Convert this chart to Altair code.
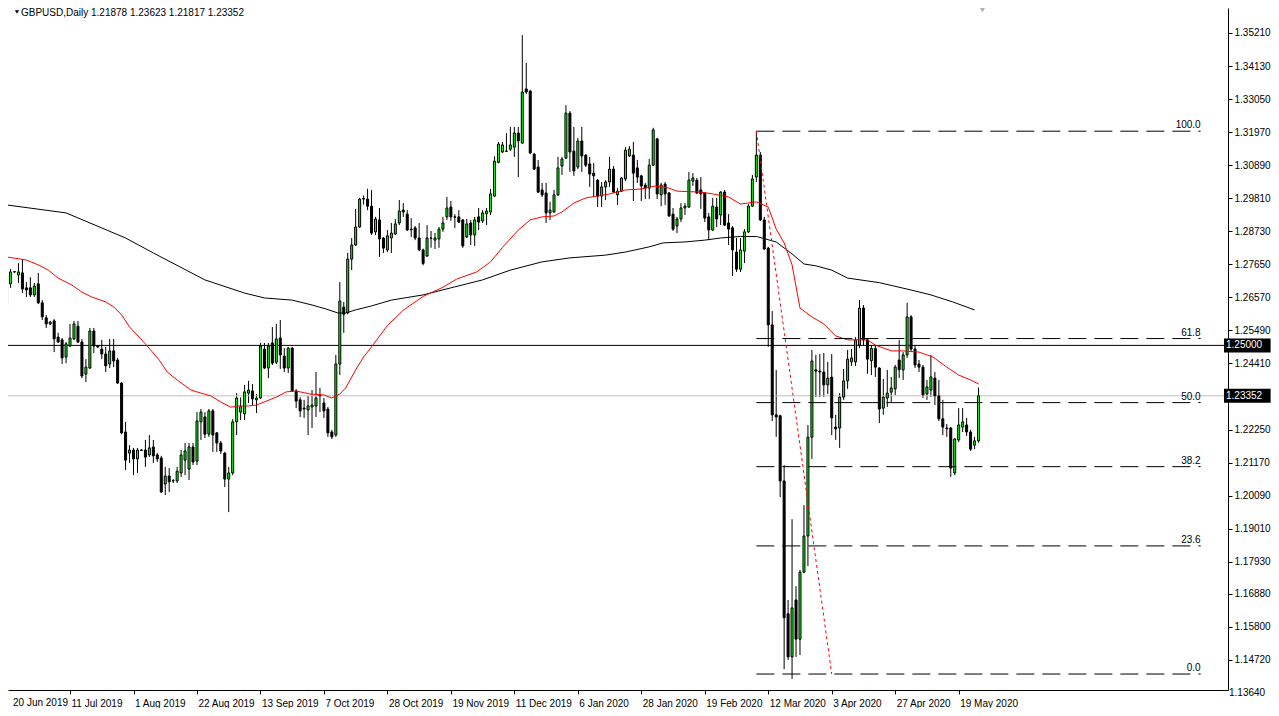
import altair as alt
import pandas as pd

# ---------------- data (GBPUSD daily) ----------------
opens = [1.2632,1.2701,1.2740,1.2730,1.2737,1.2688,1.2688,1.2665,1.2701,1.2639,
 1.2590,1.2570,1.2580,1.2527,1.2518,1.2462,1.2498,1.2521,1.2563,1.2511,
 1.2406,1.2426,1.2547,1.2498,1.2488,1.2472,1.2439,1.2482,1.2452,1.2377,
 1.2217,1.2148,1.2158,1.2129,1.2158,1.2158,1.2142,1.2168,1.2142,1.2132,
 1.2047,1.2073,1.2057,1.2057,1.2083,1.2125,1.2096,1.2168,1.2122,1.2250,
 1.2266,1.2210,1.2286,1.2214,1.2181,1.2148,1.2063,1.2083,1.2250,1.2282,
 1.2276,1.2344,1.2351,1.2322,1.2328,1.2488,1.2426,1.2508,1.2445,1.2524,
 1.2465,1.2426,1.2491,1.2351,1.2322,1.2295,1.2289,1.2299,1.2302,1.2338,
 1.2312,1.2292,1.2217,1.2207,1.2439,1.2625,1.2606,1.2782,1.2828,1.2887,
 1.2978,1.2978,1.2955,1.2871,1.2910,1.2851,1.2812,1.2851,1.2864,1.2900,
 1.2942,1.2929,1.2880,1.2884,1.2851,1.2812,1.2792,1.2851,1.2844,1.2848,
 1.2880,1.2920,1.2952,1.2920,1.2920,1.2910,1.2854,1.2900,1.2861,1.2920,
 1.2907,1.2930,1.2936,1.2988,1.3098,1.3132,1.3135,1.3141,1.3148,1.3194,
 1.3161,1.3338,1.3331,1.3125,1.3083,1.3008,1.2998,1.2933,1.2936,1.2992,
 1.3086,1.3112,1.3259,1.3135,1.3083,1.3168,1.3122,1.3093,1.3063,1.3040,
 1.2988,1.3018,1.3034,1.3076,1.2992,1.3004,1.3044,1.3119,1.3122,1.3080,
 1.3054,1.3024,1.3014,1.3089,1.3175,1.2992,1.3027,1.2998,1.2929,1.2890,
 1.2913,1.2949,1.2952,1.3037,1.3040,1.3008,1.2998,1.2920,1.2877,1.2952,
 1.2926,1.3001,1.2900,1.2884,1.2805,1.2749,1.2808,1.2871,1.2955,1.3050,
 1.3122,1.2910,1.2818,1.2567,1.2273,1.2270,1.2057,1.1623,1.1482,1.1668,
 1.1540,1.1759,1.1877,1.2200,1.2420,1.2416,1.2413,1.2371,1.2396,1.2233,
 1.2230,1.2331,1.2384,1.2446,1.2446,1.2501,1.2622,1.2518,1.2450,1.2490,
 1.2426,1.2295,1.2328,1.2347,1.2358,1.2452,1.2420,1.2469,1.2593,1.2488,
 1.2439,1.2429,1.2341,1.2354,1.2393,1.2335,1.2260,1.2230,1.2230,1.2083,
 1.2191,1.2233,1.2240,1.2217,1.2174,1.21878]

highs = [1.2746,1.2750,1.2743,1.2769,1.2782,1.2707,1.2723,1.2704,1.2737,1.2648,
 1.2599,1.2580,1.2586,1.2541,1.2524,1.2511,1.2570,1.2580,1.2580,1.2521,
 1.2455,1.2557,1.2557,1.2501,1.2518,1.2495,1.2521,1.2521,1.2459,1.2380,
 1.2250,1.2174,1.2165,1.2165,1.2161,1.2191,1.2207,1.2191,1.2148,1.2139,
 1.2103,1.2099,1.2063,1.2103,1.2158,1.2181,1.2181,1.2181,1.2282,1.2292,
 1.2282,1.2292,1.2292,1.2217,1.2188,1.2152,1.2103,1.2259,1.2344,1.2330,
 1.2371,1.2384,1.2374,1.2341,1.2508,1.2508,1.2508,1.2560,1.2570,1.2583,
 1.2491,1.2495,1.2495,1.2357,1.2331,1.2322,1.2335,1.2354,1.2413,1.2361,
 1.2328,1.2299,1.2224,1.2469,1.2707,1.2642,1.2802,1.2851,1.2946,1.2982,
 1.2990,1.3012,1.3008,1.2920,1.2949,1.2854,1.2877,1.2900,1.2913,1.2975,
 1.2965,1.2942,1.2916,1.2890,1.2900,1.2816,1.2893,1.2874,1.2867,1.2887,
 1.2920,1.2985,1.2972,1.2929,1.2942,1.2913,1.2913,1.2910,1.2920,1.2949,
 1.2942,1.2949,1.3011,1.3118,1.3165,1.3165,1.3194,1.3214,1.3214,1.3214,
 1.3514,1.3423,1.3335,1.3129,1.3106,1.3031,1.3031,1.2969,1.3008,1.3116,
 1.3116,1.3285,1.3266,1.3214,1.3178,1.3214,1.3124,1.3116,1.3096,1.3044,
 1.3034,1.3040,1.3116,1.3086,1.3014,1.3050,1.3148,1.3151,1.3165,1.3106,
 1.3057,1.3031,1.3109,1.3211,1.3178,1.3031,1.3034,1.3001,1.2949,1.2920,
 1.2965,1.2965,1.3067,1.3063,1.3047,1.3050,1.3000,1.2933,1.2982,1.2982,
 1.3004,1.3008,1.2929,1.2890,1.2851,1.2851,1.2880,1.2962,1.3057,1.3200,
 1.3132,1.2920,1.2822,1.2612,1.2420,1.2273,1.2109,1.1668,1.1932,1.1713,
 1.1766,1.1978,1.2240,1.2485,1.2469,1.2472,1.2475,1.2446,1.2472,1.2273,
 1.2344,1.2423,1.2485,1.2488,1.2527,1.2648,1.2632,1.2524,1.2500,1.2500,
 1.2429,1.2390,1.2420,1.2397,1.2436,1.2518,1.2478,1.2639,1.2599,1.2501,
 1.2452,1.2436,1.2387,1.2469,1.2413,1.2387,1.2322,1.2243,1.2233,1.2197,
 1.2295,1.2295,1.2263,1.2224,1.2201,1.23623]

lows = [1.2622,1.2688,1.2737,1.2704,1.2671,1.2658,1.2658,1.2658,1.2635,1.2583,
 1.2557,1.2567,1.2478,1.2508,1.2439,1.2442,1.2495,1.2518,1.2508,1.2393,
 1.2380,1.2423,1.2475,1.2491,1.2455,1.2413,1.2426,1.2429,1.2374,1.2210,
 1.2093,1.2116,1.2076,1.2083,1.2155,1.2103,1.2135,1.2116,1.2119,1.2018,
 1.2011,1.2021,1.2050,1.2050,1.2070,1.2076,1.2060,1.2109,1.2109,1.2191,
 1.2197,1.2201,1.2152,1.2152,1.2145,1.2037,1.1955,1.2076,1.2207,1.2256,
 1.2256,1.2312,1.2302,1.2279,1.2325,1.2423,1.2393,1.2436,1.2439,1.2423,
 1.2413,1.2410,1.2348,1.2295,1.2266,1.2263,1.2207,1.2230,1.2266,1.2282,
 1.2263,1.2201,1.2194,1.2201,1.2403,1.2541,1.2602,1.2746,1.2825,1.2884,
 1.2960,1.2942,1.2861,1.2861,1.2789,1.2802,1.2805,1.2802,1.2861,1.2893,
 1.2920,1.2874,1.2854,1.2844,1.2808,1.2762,1.2789,1.2819,1.2815,1.2819,
 1.2871,1.2910,1.2907,1.2884,1.2900,1.2819,1.2851,1.2828,1.2825,1.2877,
 1.2900,1.2893,1.2926,1.2985,1.3095,1.3129,1.3132,1.3135,1.3116,1.3050,
 1.3160,1.3322,1.3125,1.3073,1.2998,1.2985,1.2900,1.2910,1.2933,1.2988,
 1.3057,1.3109,1.3067,1.3054,1.3076,1.3067,1.3083,1.3018,1.2985,1.2952,
 1.2952,1.2975,1.3018,1.2998,1.2959,1.3001,1.3037,1.3116,1.2972,1.3031,
 1.2972,1.2978,1.2978,1.3086,1.2978,1.2955,1.2959,1.2920,1.2874,1.2867,
 1.2903,1.2926,1.2950,1.3021,1.2995,1.2946,1.2903,1.2844,1.2874,1.2887,
 1.2893,1.2890,1.2828,1.2727,1.2740,1.2740,1.2769,1.2867,1.2952,1.3034,
 1.2907,1.2812,1.2495,1.2253,1.2201,1.2004,1.1442,1.1472,1.1410,1.1482,
 1.1488,1.1755,1.1779,1.2129,1.2331,1.2331,1.2331,1.2341,1.2207,1.2191,
 1.2165,1.2322,1.2358,1.2433,1.2433,1.2491,1.2501,1.2407,1.2403,1.2397,
 1.2246,1.2273,1.2299,1.2312,1.2338,1.2393,1.2387,1.2459,1.2478,1.2426,
 1.2413,1.2328,1.2322,1.2331,1.2305,1.2253,1.2207,1.2201,1.2070,1.2076,
 1.2184,1.2217,1.2204,1.2155,1.2161,1.21817]

closes = [1.2730,1.2740,1.2741,1.2740,1.2684,1.2681,1.2665,1.2694,1.2639,1.2593,
 1.2570,1.2576,1.2521,1.2511,1.2459,1.2505,1.2524,1.2570,1.2511,1.2400,
 1.2429,1.2547,1.2498,1.2495,1.2472,1.2433,1.2482,1.2449,1.2377,1.2214,
 1.2125,1.2158,1.2129,1.2158,1.2157,1.2135,1.2165,1.2139,1.2129,1.2021,
 1.2073,1.2054,1.2058,1.2089,1.2142,1.2155,1.2168,1.2119,1.2253,1.2282,
 1.2210,1.2286,1.2207,1.2181,1.2155,1.2063,1.2083,1.2250,1.2328,1.2300,
 1.2348,1.2354,1.2325,1.2328,1.2498,1.2426,1.2498,1.2442,1.2521,1.2469,
 1.2426,1.2491,1.2351,1.2318,1.2286,1.2292,1.2302,1.2305,1.2328,1.2335,
 1.2286,1.2214,1.2201,1.2439,1.2645,1.2602,1.2782,1.2828,1.2887,1.2978,
 1.2980,1.2955,1.2867,1.2913,1.2848,1.2818,1.2858,1.2867,1.2897,1.2939,
 1.2936,1.2877,1.2878,1.2851,1.2812,1.2768,1.2851,1.2850,1.2851,1.2880,
 1.2900,1.2949,1.2920,1.2919,1.2903,1.2825,1.2897,1.2861,1.2910,1.2903,
 1.2933,1.2939,1.2995,1.3102,1.3158,1.3155,1.3134,1.3155,1.3194,1.3168,
 1.3328,1.3328,1.3129,1.3076,1.3001,1.2992,1.2933,1.2942,1.2992,1.3080,
 1.3109,1.3259,1.3132,1.3070,1.3168,1.3119,1.3089,1.3060,1.3054,1.2988,
 1.3018,1.3034,1.3076,1.3001,1.3004,1.3047,1.3138,1.3141,1.3063,1.3050,
 1.3021,1.3014,1.3089,1.3204,1.2995,1.3024,1.2995,1.2923,1.2880,1.2913,
 1.2949,1.2955,1.3040,1.3047,1.2998,1.2995,1.2916,1.2877,1.2955,1.2913,
 1.3001,1.2893,1.2880,1.2812,1.2749,1.2812,1.2871,1.2955,1.3044,1.3122,
 1.2910,1.2815,1.2567,1.2273,1.2266,1.2057,1.1610,1.1482,1.1642,1.1540,
 1.1759,1.1877,1.2200,1.2449,1.2416,1.2413,1.2371,1.2393,1.2263,1.2227,
 1.2331,1.2384,1.2455,1.2459,1.2518,1.2622,1.2518,1.2455,1.2490,1.2429,
 1.2292,1.2331,1.2344,1.2361,1.2429,1.2420,1.2469,1.2593,1.2488,1.2436,
 1.2429,1.2338,1.2364,1.2397,1.2335,1.2260,1.2233,1.2228,1.2099,1.2194,
 1.2240,1.2250,1.2217,1.2161,1.2188,1.23352]

# moving averages (red = fast, black = slow), sampled along the curve
ma_fast_bars = [0,5,8,10.5,13,16.5,19,21.5,25,27,29,31,35,38.5,40.5,43,46.5,49,51.5,54,
 56.5,58.5,61,63,68,70.5,73,76.5,80,82,84,85.5,88,90,92,96,100,105,110,113.5,
 118.5,122,125,129,132,135,138,140,143,146,149,152,156,160,163.5,167,169,175,178,182,
 185,189,192,194,196,198,200,203,206,209,212,217,219,223,226,230,233.5,237,240,243,245]
ma_fast_vals = [1.2789,1.2779,1.2763,1.2746,1.2720,1.2697,1.2674,1.2658,1.2642,1.2626,
 1.2600,1.2560,1.2505,1.2452,1.2413,1.2387,1.2354,1.2344,1.2335,1.2315,
 1.2298,1.2302,1.2302,1.2305,1.2331,1.2348,1.2351,1.2341,1.2338,1.2328,
 1.2341,1.2361,1.2420,1.2462,1.2495,1.2565,1.2615,1.2660,1.2690,1.2717,
 1.2740,1.2773,1.2820,1.2877,1.2910,1.2920,1.2923,1.2936,1.2965,1.2982,
 1.2988,1.2995,1.3008,1.3011,1.3021,1.3014,1.3004,1.3001,1.2995,1.2985,
 1.2962,1.2969,1.2952,1.2880,1.2835,1.2763,1.2622,1.2593,1.2570,1.2531,
 1.2518,1.2518,1.2501,1.2482,1.2482,1.2478,1.2462,1.2429,1.2403,1.2387,1.2374]

ma_slow_bars = [0,15,30,37,50,60,65,72,77,80.5,83.5,85.5,88,92,97,105,112,120,127,135,
 142,151,156,162,165.5,171,176,180,185,189,194,198,201,204,208,212,220,228,233,238.5,244]
ma_slow_vals = [1.2959,1.2933,1.2851,1.2802,1.2714,1.2671,1.2655,1.2648,1.2632,1.2619,
 1.2606,1.2606,1.2616,1.2629,1.2648,1.2665,1.2688,1.2714,1.2746,1.2773,
 1.2786,1.2795,1.2805,1.2822,1.2835,1.2838,1.2844,1.2851,1.2856,1.2856,
 1.2838,1.2799,1.2766,1.2760,1.2746,1.2720,1.2705,1.2681,1.2665,1.2642,1.2616]

date_labels = ["20 Jun 2019", "11 Jul 2019", "1 Aug 2019", "22 Aug 2019", "13 Sep 2019",
               "7 Oct 2019", "28 Oct 2019", "19 Nov 2019", "11 Dec 2019", "6 Jan 2020",
               "28 Jan 2020", "19 Feb 2020", "12 Mar 2020", "3 Apr 2020", "27 Apr 2020",
               "19 May 2020"]
date_bars = [0, 16, 32, 48, 64, 80, 96, 112, 128, 144, 160, 176, 192, 208, 224, 240]

price_ticks = [1.35210, 1.34130, 1.33050, 1.31970, 1.30890, 1.29810, 1.28730, 1.27650,
               1.26570, 1.25490, 1.24410, 1.22250, 1.21170, 1.20090, 1.19010, 1.17930,
               1.16880, 1.15800, 1.14720]
bottom_tick = 1.13640

fib_levels = [0.0, 23.6, 38.2, 50.0, 61.8, 100.0]
fib_high, fib_low = 1.3200, 1.1426
fib_start_bar, fib_low_bar, fib_end_bar = 189, 208, 301

level_line = 1.25000
last_price = 1.23352
header = "GBPUSD,Daily  1.21878 1.23623 1.21817 1.23352"

# ---------------- layout ----------------
FONT = "Liberation Sans"
W, H = 1220, 682
x_dom = [1.625, 306.625]
y_dom = [1.13738, 1.36026]
xs = alt.Scale(domain=x_dom, nice=False, zero=False)
ys = alt.Scale(domain=y_dom, nice=False, zero=False)
px = (y_dom[1] - y_dom[0]) / H  # price per pixel

n = len(opens)
candles = pd.DataFrame({"bar": list(range(n)), "o": opens, "h": highs, "l": lows, "c": closes})
candles["dir"] = ["up" if c >= o else "down" for o, c in zip(opens, closes)]

labels_js = "[" + ",".join("'%s'" % s for s in date_labels) + "]"
bars_js = "[" + ",".join(str(b) for b in date_bars) + "]"

x_axis = alt.Axis(values=date_bars[1:], labelExpr=f"{labels_js}[indexof({bars_js}, datum.value)]",
                  tickSize=4, tickColor="black", domainColor="black", labelColor="black",
                  labelFont=FONT, labelFontSize=10, labelAlign="left", labelBaseline="top",
                  labelPadding=4, labelOffset=1, grid=False, title=None,
                  labelOverlap=False, labelFlush=False)
y_axis = alt.Axis(orient="right", values=price_ticks, format=".5f", tickSize=4,
                  tickColor="black", domainColor="black", labelColor="black",
                  labelFont=FONT, labelFontSize=10, labelPadding=2, grid=False, title=None,
                  labelOverlap=False, labelFlush=False)


def X(f):
    return alt.X(f, scale=xs, axis=x_axis)


def Y(f):
    return alt.Y(f, scale=ys, axis=y_axis)


wicks = alt.Chart(candles).mark_rule(color="black", strokeWidth=1, clip=True).encode(
    x=X("bar:Q"), y=Y("l:Q"), y2="h:Q")

bodies = alt.Chart(candles).mark_bar(size=2, stroke="black", strokeWidth=1, clip=True).encode(
    x=X("bar:Q"), y=Y("o:Q"), y2="c:Q",
    fill=alt.Fill("dir:N", scale=alt.Scale(domain=["up", "down"], range=["#00ff00", "#000000"]),
                  legend=None))

hl = pd.DataFrame({"p": [level_line]})
hl_rule = alt.Chart(hl).mark_rule(color="black", strokeWidth=1).encode(y=Y("p:Q"))
lp = pd.DataFrame({"p": [last_price]})
lp_rule = alt.Chart(lp).mark_rule(color="#c0c0c0", strokeWidth=1).encode(y=Y("p:Q"))

fast = pd.DataFrame({"bar": ma_fast_bars, "v": ma_fast_vals})
slow = pd.DataFrame({"bar": ma_slow_bars, "v": ma_slow_vals})
fast_line = alt.Chart(fast).mark_line(color="#ff0000", strokeWidth=1, clip=True).encode(
    x=X("bar:Q"), y=Y("v:Q"))
slow_line = alt.Chart(slow).mark_line(color="#000000", strokeWidth=1, clip=True).encode(
    x=X("bar:Q"), y=Y("v:Q"))

fib = pd.DataFrame({"lvl": fib_levels})
fib["p"] = fib_low + (fib_high - fib_low) * fib["lvl"] / 100.0
fib["txt"] = ["%.1f" % v for v in fib_levels]
fib["x0"] = fib_start_bar
fib["x1"] = fib_end_bar
fib_lines = alt.Chart(fib).mark_rule(color="black", strokeWidth=1, strokeDash=[18, 8]).encode(
    x=X("x0:Q"), x2="x1:Q", y=Y("p:Q"))
fib_text = alt.Chart(fib).mark_text(align="right", baseline="bottom", dy=-1, font=FONT,
                                     fontSize=10, color="black").encode(
    x=X("x1:Q"), y=Y("p:Q"), text="txt:N")

trend = pd.DataFrame({"x0": [fib_start_bar], "x1": [fib_low_bar], "y0": [fib_high], "y1": [fib_low]})
trend_line = alt.Chart(trend).mark_rule(color="#ff0000", strokeWidth=1, strokeDash=[3, 3]).encode(
    x=X("x0:Q"), x2="x1:Q", y=Y("y0:Q"), y2="y1:Q")

boxes = pd.DataFrame({"p": [level_line, last_price], "txt": ["1.25000", "1.23352"]})
boxes["b0"] = boxes["p"] - 7 * px
boxes["b1"] = boxes["p"] + 7 * px
boxes["xa"] = x_dom[1] + 0.25
boxes["xb"] = x_dom[1] + 12
box_rect = alt.Chart(boxes).mark_rect(color="black", clip=False).encode(
    x=X("xa:Q"), x2="xb:Q", y=Y("b0:Q"), y2="b1:Q")
box_text = alt.Chart(boxes).mark_text(align="left", baseline="middle", font=FONT, fontSize=10,
                                      color="white", dx=2, clip=False).encode(
    x=X("xa:Q"), y=Y("p:Q"), text="txt:N")

low_lab = pd.DataFrame({"p": [bottom_tick], "b": [x_dom[1]], "t": ["%.5f" % bottom_tick]})
low_text = alt.Chart(low_lab).mark_text(align="left", baseline="middle", font=FONT, fontSize=10,
                                        color="black", dx=6, clip=False).encode(
    x=X("b:Q"), y=Y("p:Q"), text="t:N")

first_date = pd.DataFrame({"t": [date_labels[0]], "b": [x_dom[0]], "p": [y_dom[0]]})
first_text = alt.Chart(first_date).mark_text(align="left", baseline="top", font=FONT, fontSize=10,
                                             color="black", dy=8, clip=False).encode(
    x=X("b:Q"), y=Y("p:Q"), text="t:N")

head = pd.DataFrame({"t": [header], "b": [x_dom[0]], "p": [y_dom[1]]})
head_text = alt.Chart(head).mark_text(align="left", baseline="alphabetic", font=FONT, fontSize=10,
                                      color="black", dx=8, dy=8).encode(
    x=X("b:Q"), y=Y("p:Q"), text="t:N")
head_tri = alt.Chart(head).mark_point(shape="triangle-down", filled=True, color="black", size=18,
                                      opacity=1, xOffset=4, yOffset=4).encode(
    x=X("b:Q"), y=Y("p:Q"))

shift = pd.DataFrame({"b": [n], "p": [y_dom[1]]})
shift_tri = alt.Chart(shift).mark_point(shape="triangle-down", filled=True, color="#b0b0b0",
                                        size=30, opacity=1, yOffset=2).encode(
    x=X("b:Q"), y=Y("p:Q"))

chart = alt.layer(
    wicks, lp_rule, hl_rule, bodies, slow_line, fast_line, fib_lines, fib_text, trend_line,
    box_rect, box_text, low_text, first_text, head_tri, head_text, shift_tri
).properties(
    width=W, height=H,
    autosize=alt.AutoSizeParams(type="none"),
    padding={"left": 0, "top": 0, "right": 43, "bottom": 18},
    background="white"
).configure_view(stroke=None)

chart.save("out.html", embed_options={"renderer": "svg", "actions": False})
